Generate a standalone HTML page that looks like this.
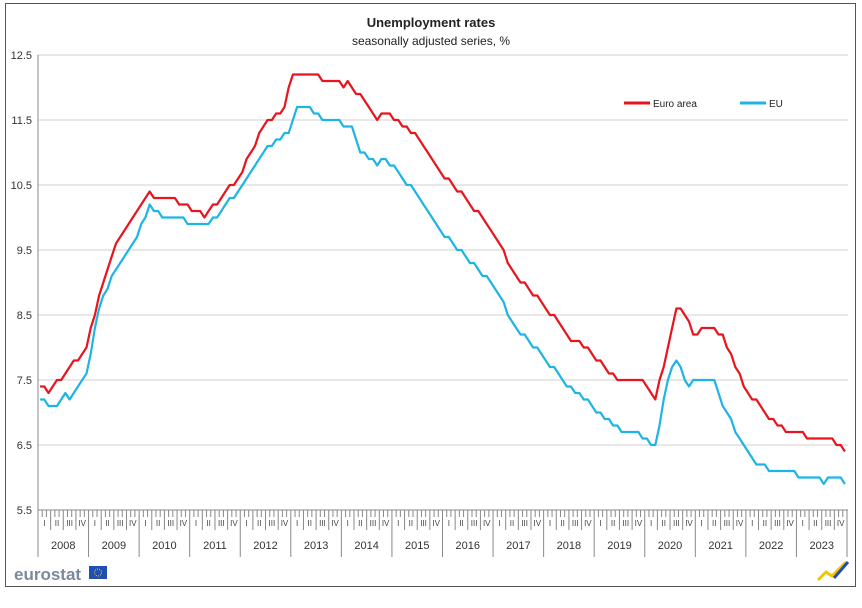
<!DOCTYPE html>
<html><head><meta charset="utf-8"><style>
body{margin:0;background:#fff;font-family:"Liberation Sans",sans-serif}
</style></head><body>
<svg id="s" width="862" height="603" xmlns="http://www.w3.org/2000/svg" font-family="Liberation Sans, sans-serif">
<rect x="5.5" y="3.5" width="850" height="583" fill="#fff" stroke="#555" stroke-width="1"/>
<text x="431" y="27" text-anchor="middle" font-size="13" font-weight="bold" fill="#222">Unemployment rates</text>
<text x="431" y="45" text-anchor="middle" font-size="12" fill="#222">seasonally adjusted series, %</text>
<g id="grid"></g>
<line x1="38" y1="55" x2="38" y2="555" stroke="#888"/>
<line x1="38" y1="510" x2="848" y2="510" stroke="#888"/>
<g id="ticks"></g>
<polyline id="eu" fill="none" stroke="#1eb4e6" stroke-width="2.2" stroke-linejoin="round"/>
<polyline id="ea" fill="none" stroke="#e8141e" stroke-width="2.2" stroke-linejoin="round"/>
<line x1="624" y1="103" x2="650" y2="103" stroke="#e8141e" stroke-width="3"/>
<text x="653" y="107" font-size="10" fill="#222">Euro area</text>
<line x1="740" y1="103" x2="766" y2="103" stroke="#1eb4e6" stroke-width="3"/>
<text x="769" y="107" font-size="10" fill="#222">EU</text>
<text x="14" y="580" font-size="17" font-weight="bold" fill="#7a8a9a">eurostat</text>
<rect x="89" y="566" width="18" height="13" fill="#1f4fb5"/>
<circle cx="98" cy="572.5" r="3.5" fill="none" stroke="#f5d400" stroke-width="1" stroke-dasharray="1 1.2"/>
<path d="M818 580 L826 572 L832 576 L846 562" fill="none" stroke="#f5c400" stroke-width="3"/>
<path d="M834 578 L848 562" fill="none" stroke="#1f4fb5" stroke-width="3"/>
</svg>
<script>
var NS="http://www.w3.org/2000/svg",X0=38,MW=809/192;
function Y(v){return 55+(12.5-v)*65}
function el(p,t,a,txt){var e=document.createElementNS(NS,t);for(var k in a)e.setAttribute(k,a[k]);if(txt)e.textContent=txt;document.getElementById(p).appendChild(e);}
for(var v=6.5;v<=12.5;v+=1){el("grid","line",{x1:38,x2:848,y1:Y(v),y2:Y(v),stroke:"#d0d0d0"});}
for(var v=5.5;v<=12.5;v+=1){el("grid","text",{x:32,y:Y(v)+4,"text-anchor":"end","font-size":"11",fill:"#333"},v.toFixed(1));}
var q=["I","II","III","IV"];
for(var m=0;m<=192;m++){var x=X0+m*MW;
 if(m%12==0) el("ticks","line",{x1:x,x2:x,y1:510,y2:557,stroke:"#888"});
 else if(m%3==0) el("ticks","line",{x1:x,x2:x,y1:510,y2:530,stroke:"#888"});
 else el("ticks","line",{x1:x,x2:x,y1:510,y2:517,stroke:"#888"});
}
for(var yr=0;yr<16;yr++){for(var k=0;k<4;k++){var x=X0+(yr*12+k*3+1.5)*MW;el("ticks","text",{x:x,y:526,"text-anchor":"middle","font-size":"8",fill:"#444"},q[k]);}
 el("ticks","text",{x:X0+(yr*12+6)*MW,y:549,"text-anchor":"middle","font-size":"11",fill:"#333"},String(2008+yr));}
function series(kp){var pts=[];for(var i=0;i<kp.length-1;i++){var a=kp[i],b=kp[i+1];for(var m=a[0];m<b[0];m++){var v=a[1]+(b[1]-a[1])*(m-a[0])/(b[0]-a[0]);v=Math.round(v*10)/10;pts.push((X0+(m+0.5)*MW).toFixed(1)+","+Y(v).toFixed(1));}}
var l=kp[kp.length-1];pts.push((X0+(l[0]+0.5)*MW).toFixed(1)+","+Y(l[1]).toFixed(1));return pts.join(" ");}
var ea=[[0,7.4],[2,7.3],[6,7.6],[11,8.0],[15,9.0],[18,9.6],[23,10.1],[26,10.35],[35,10.2],[39,10.0],[47,10.6],[53,11.4],[58,11.7],[60,12.2],[66,12.2],[67,12.1],[71,12.1],[72,12.0],[73,12.1],[78,11.7],[80,11.5],[81,11.6],[83,11.6],[90,11.2],[95,10.7],[101,10.3],[107,9.8],[113,9.1],[119,8.7],[125,8.2],[131,7.9],[137,7.5],[143,7.5],[146,7.2],[149,8.0],[151,8.6],[153,8.5],[155,8.2],[158,8.3],[162,8.2],[167,7.4],[173,6.9],[177,6.7],[186,6.6],[190,6.5],[191,6.4]];
var eu=[[0,7.2],[2,7.1],[4,7.1],[6,7.3],[7,7.2],[11,7.6],[14,8.6],[17,9.1],[23,9.7],[26,10.2],[29,10.0],[33,10.0],[36,9.9],[40,9.9],[47,10.4],[53,11.0],[59,11.3],[61,11.7],[64,11.7],[66,11.6],[67,11.5],[71,11.5],[72,11.4],[74,11.4],[76,11.0],[78,10.9],[80,10.8],[82,10.9],[90,10.3],[95,9.8],[101,9.4],[107,9.0],[113,8.3],[119,7.9],[125,7.4],[131,7.1],[137,6.75],[141,6.7],[146,6.5],[149,7.5],[151,7.8],[154,7.4],[156,7.5],[160,7.5],[162,7.1],[167,6.5],[170,6.2],[174,6.1],[184,6.0],[186,5.9],[187,6.0],[190,6.0],[191,5.9]];
document.getElementById("ea").setAttribute("points",series(ea));
document.getElementById("eu").setAttribute("points",series(eu));
</script>
</body></html>
